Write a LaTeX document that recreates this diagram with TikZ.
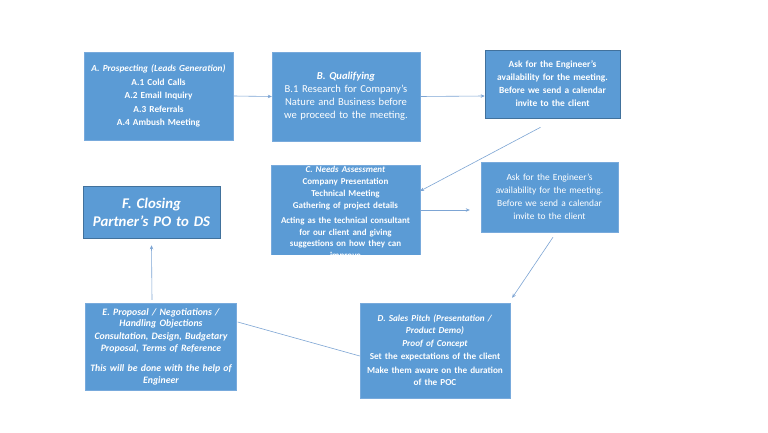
\documentclass[tikz,border=0pt]{standalone}
\usepackage{fontspec}
\setmainfont{Carlito}
\usetikzlibrary{arrows.meta,calc}
\definecolor{boxfill}{RGB}{91,155,213}
\definecolor{boxdark}{RGB}{65,113,156}
\definecolor{boxlight}{RGB}{120,170,220}
\definecolor{linec}{RGB}{125,165,212}
\tikzset{
  stepbox/.style={rectangle, fill=boxfill, draw=boxlight, line width=0.4pt, text=white, align=center, inner sep=1pt},
  darkbox/.style={stepbox, draw=boxdark, line width=0.6pt},
  conn/.style={draw=linec, line width=0.6pt, -{Stealth[length=4pt,width=3.5pt]}},
  plainconn/.style={draw=linec, line width=0.6pt},
}
\begin{document}
\begin{tikzpicture}[x=1pt,y=-1pt]
\fill[white] (0,0) rectangle (768,433);
\useasboundingbox (0,0) rectangle (768,433);

% A
\node[stepbox, minimum width=149pt, minimum height=88pt, text width=147pt,
  font=\fontsize{9.3}{13.5}\selectfont\bfseries] (A) at (158.5,96)
  {\textit{A. Prospecting (Leads Generation)}\\A.1 Cold Calls\\A.2 Email Inquiry\\A.3 Referrals\\A.4 Ambush Meeting};

% B
\node[stepbox, minimum width=148pt, minimum height=89pt, text width=146pt,
  font=\fontsize{10.6}{13}\selectfont] (B) at (346,96.5)
  {\textbf{\textit{B. Qualifying}}\\B.1 Research for Company's\\Nature and Business before\\we proceed to the meeting.};

% Ask 1
\node[darkbox, minimum width=135pt, minimum height=68pt, text width=133pt,
  font=\fontsize{9.4}{13}\selectfont\bfseries] (Ask1) at (552.5,84)
  {Ask for the Engineer's\\availability for the meeting.\\Before we send a calendar\\invite to the client};

% C (text overflows box)
\node[stepbox, minimum width=149pt, minimum height=90pt] (C) at (345.5,210) {};
\node[text=white, align=center, inner sep=0pt, text width=147pt,
  font=\fontsize{9}{12}\selectfont\bfseries] (Ct) at (345.5,213)
  {\textit{C. Needs Assessment}\\[0pt]Company Presentation\\[0pt]Technical Meeting\\[0pt]Gathering of project details\\[4pt]
  {\fontsize{9}{11.3}\selectfont Acting as the technical consultant\\for our client and giving\\suggestions on how they can\\improve}};
% mask overflow outside C
\fill[white] (260,150) rectangle (430,165);
\fill[white] (260,255.2) rectangle (430,272);

% Ask 2
\node[stepbox, draw=boxlight, minimum width=137pt, minimum height=70pt, text width=135pt,
  font=\fontsize{9.4}{13}\selectfont] (Ask2) at (549.5,197)
  {Ask for the Engineer's\\availability for the meeting.\\Before we send a calendar\\invite to the client};

% F
\node[darkbox, minimum width=137pt, minimum height=52pt, text width=135pt,
  font=\fontsize{14.8}{18}\selectfont\bfseries\itshape] (F) at (151.5,212)
  {F. Closing\\Partner's PO to DS};

% E
\node[stepbox, minimum width=150pt, minimum height=87pt, text width=149pt,
  font=\fontsize{9.8}{11.8}\selectfont\bfseries\itshape] (E) at (161,346.5)
  {E. Proposal / Negotiations /\\Handling Objections\\[1pt]Consultation, Design, Budgetary\\Proposal, Terms of Reference\\[8pt]This will be done with the help of\\Engineer};

% D
\node[stepbox, minimum width=150pt, minimum height=95pt, text width=148pt,
  font=\fontsize{9.2}{12}\selectfont\bfseries] (D) at (435,350.5)
  {\textit{D. Sales Pitch (Presentation /}\\\textit{Product Demo)}\\[1pt]\textit{Proof of Concept}\\[1pt]Set the expectations of the client\\[2pt]Make them aware on the duration\\of the POC};

% connectors
\draw[conn] (A.east) -- (B.west);
\draw[conn] (B.east) -- ($(Ask1.west)+(0,12)$);
\draw[conn] ($(Ask1.south)+(-12,9)$) -- ($(C.east)+(0,-19)$);
\draw[conn] (C.east) -- ($(Ask2.west)+(-11,13)$);
\draw[conn] ($(Ask2.south)+(3.5,5)$) -- ($(D.north east)+(2,-5)$);
\draw[conn] ($(E.north)+(-9,-3)$) -- ($(F.south)+(0,7)$);
\draw[plainconn] ($(E.east)+(1,-24.5)$) -- ($(D.west)+(0,5.5)$);
\end{tikzpicture}
\end{document}
